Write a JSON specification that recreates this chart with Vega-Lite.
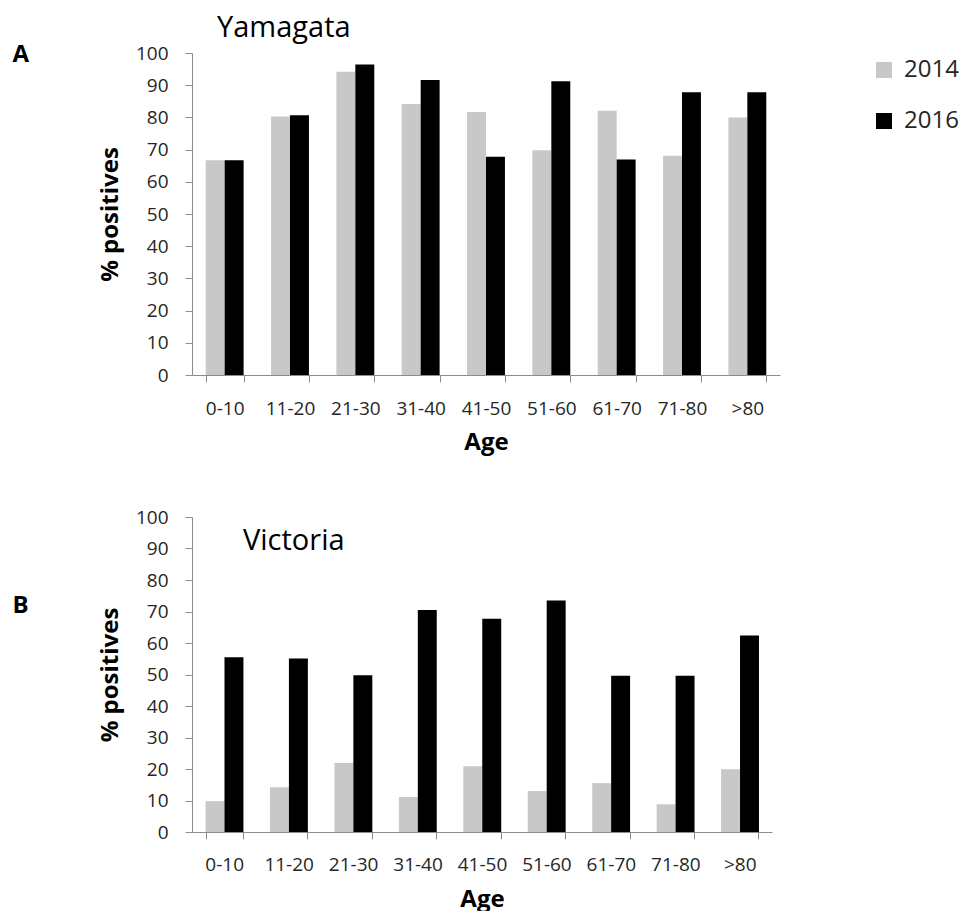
{
  "$schema": "https://vega.github.io/schema/vega-lite/v6.json",
  "padding": {"left": 12, "top": 14, "right": 5, "bottom": 0},
  "config": {
    "font": "Open Sans",
    "view": {"stroke": null},
    "axis": {
      "grid": false,
      "domainColor": "#8c8c8c",
      "tickColor": "#8c8c8c",
      "labelColor": "#262626",
      "titleColor": "#000000",
      "labelFont": "Open Sans",
      "titleFont": "Open Sans",
      "labelFontSize": 19,
      "titleFontSize": 24,
      "titleFontWeight": "bold",
      "tickSize": 7
    },
    "legend": {
      "labelFont": "Open Sans",
      "labelFontSize": 24,
      "labelColor": "#262626"
    }
  },
  "datasets": {
    "yamagata": [
      {"age": "0-10", "year": "2014", "pct": 66.7},
      {"age": "0-10", "year": "2016", "pct": 66.7},
      {"age": "11-20", "year": "2014", "pct": 80.3},
      {"age": "11-20", "year": "2016", "pct": 80.7},
      {"age": "21-30", "year": "2014", "pct": 94.2},
      {"age": "21-30", "year": "2016", "pct": 96.4},
      {"age": "31-40", "year": "2014", "pct": 84.2},
      {"age": "31-40", "year": "2016", "pct": 91.6},
      {"age": "41-50", "year": "2014", "pct": 81.7},
      {"age": "41-50", "year": "2016", "pct": 67.8},
      {"age": "51-60", "year": "2014", "pct": 69.8},
      {"age": "51-60", "year": "2016", "pct": 91.2},
      {"age": "61-70", "year": "2014", "pct": 82.1},
      {"age": "61-70", "year": "2016", "pct": 66.9},
      {"age": "71-80", "year": "2014", "pct": 68.1},
      {"age": "71-80", "year": "2016", "pct": 87.8},
      {"age": ">80", "year": "2014", "pct": 80.0},
      {"age": ">80", "year": "2016", "pct": 87.8}
    ],
    "victoria": [
      {"age": "0-10", "year": "2014", "pct": 9.8},
      {"age": "0-10", "year": "2016", "pct": 55.5},
      {"age": "11-20", "year": "2014", "pct": 14.2},
      {"age": "11-20", "year": "2016", "pct": 55.1},
      {"age": "21-30", "year": "2014", "pct": 21.9},
      {"age": "21-30", "year": "2016", "pct": 49.8},
      {"age": "31-40", "year": "2014", "pct": 11.1},
      {"age": "31-40", "year": "2016", "pct": 70.5},
      {"age": "41-50", "year": "2014", "pct": 20.9},
      {"age": "41-50", "year": "2016", "pct": 67.7},
      {"age": "51-60", "year": "2014", "pct": 13.0},
      {"age": "51-60", "year": "2016", "pct": 73.5},
      {"age": "61-70", "year": "2014", "pct": 15.5},
      {"age": "61-70", "year": "2016", "pct": 49.6},
      {"age": "71-80", "year": "2014", "pct": 8.8},
      {"age": "71-80", "year": "2016", "pct": 49.6},
      {"age": ">80", "year": "2014", "pct": 19.9},
      {"age": ">80", "year": "2016", "pct": 62.4}
    ]
  },
  "spacing": 54,
  "vconcat": [
    {
      "title": {"text": "A", "anchor": "start", "frame": "bounds", "dx": -86, "offset": -72, "baseline": "alphabetic", "fontSize": 24, "fontWeight": "bold", "color": "#000000"},
      "vconcat": [
        {
          "title": {"text": "Yamagata", "anchor": "start", "frame": "group", "dx": 25, "offset": -22, "baseline": "alphabetic", "fontSize": 29, "fontWeight": "normal", "color": "#000000"},
          "width": 588,
          "height": 322,
          "data": {"name": "yamagata"},
          "mark": {"type": "bar"},
          "encoding": {
            "x": {"field": "age", "type": "nominal", "sort": ["0-10","11-20","21-30","31-40","41-50","51-60","61-70","71-80",">80"],
                  "scale": {"paddingInner": 0.42, "paddingOuter": 0.21},
                  "axis": {"title": "Age", "labelAngle": 0, "tickBand": "extent", "labelPadding": 17, "titlePadding": 12}},
            "xOffset": {"field": "year", "type": "nominal", "scale": {"paddingInner": 0, "paddingOuter": 0}},
            "y": {"field": "pct", "type": "quantitative", "scale": {"domain": [0, 100]},
                  "axis": {"title": "% positives", "values": [0,10,20,30,40,50,60,70,80,90,100], "labelPadding": 17, "titlePadding": 13}},
            "color": {"field": "year", "type": "nominal", "scale": {"domain": ["2014", "2016"], "range": ["#c8c8c8", "#000000"]},
                      "legend": {"title": null, "orient": "right", "offset": 87, "padding": 5, "symbolType": "square", "symbolSize": 256, "symbolStrokeWidth": 0, "rowPadding": 27, "labelOffset": 8}}
          }
        }
      ]
    },
    {
      "title": {"text": "B", "anchor": "start", "frame": "bounds", "dx": -86, "offset": -129, "baseline": "alphabetic", "fontSize": 24, "fontWeight": "bold", "color": "#000000"},
      "vconcat": [
        {
          "title": {"text": "Victoria", "anchor": "start", "frame": "group", "dx": 51, "offset": -71, "baseline": "alphabetic", "fontSize": 29, "fontWeight": "normal", "color": "#000000"},
          "width": 580,
          "height": 315,
          "data": {"name": "victoria"},
          "mark": {"type": "bar"},
          "encoding": {
            "x": {"field": "age", "type": "nominal", "sort": ["0-10","11-20","21-30","31-40","41-50","51-60","61-70","71-80",">80"],
                  "scale": {"paddingInner": 0.42, "paddingOuter": 0.21},
                  "axis": {"title": "Age", "labelAngle": 0, "tickBand": "extent", "labelPadding": 16, "titlePadding": 13}},
            "xOffset": {"field": "year", "type": "nominal", "scale": {"paddingInner": 0, "paddingOuter": 0}},
            "y": {"field": "pct", "type": "quantitative", "scale": {"domain": [0, 100]},
                  "axis": {"title": "% positives", "values": [0,10,20,30,40,50,60,70,80,90,100], "labelPadding": 17, "titlePadding": 13}},
            "color": {"field": "year", "type": "nominal", "scale": {"domain": ["2014", "2016"], "range": ["#c8c8c8", "#000000"]},
                      "legend": {"title": null, "orient": "right", "offset": 87, "padding": 5, "symbolType": "square", "symbolSize": 256, "symbolStrokeWidth": 0, "rowPadding": 27, "labelOffset": 8}}
          }
        }
      ]
    }
  ]
}
